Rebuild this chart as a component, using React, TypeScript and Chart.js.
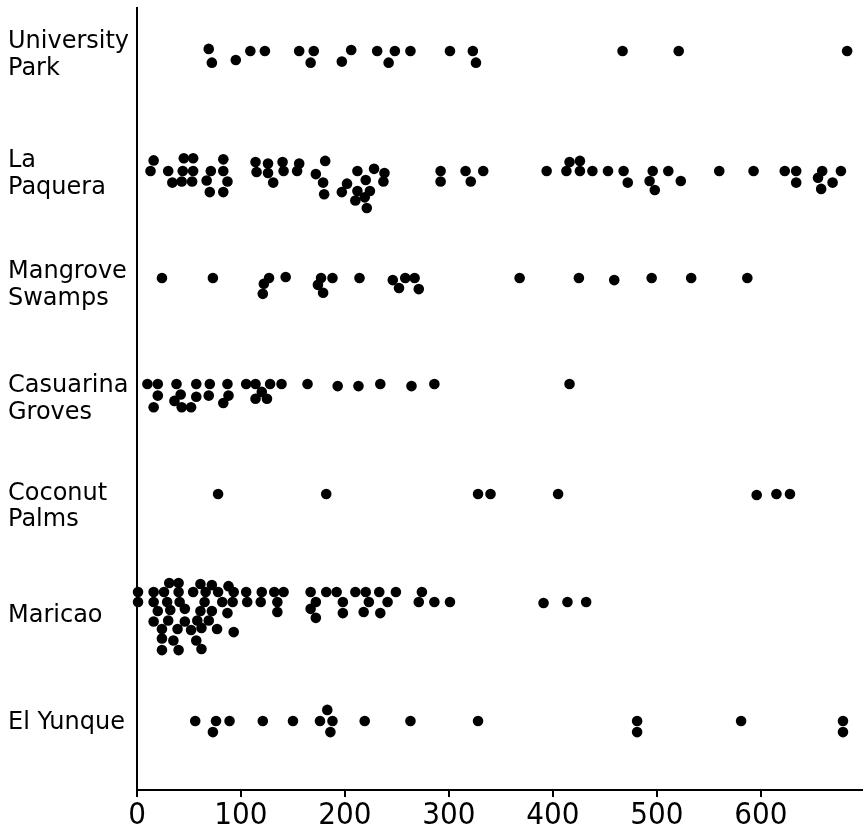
import React, { useEffect, useRef } from "react";
import { Chart, registerables } from "chart.js";

Chart.register(...registerables);

// ---- Data ----
const siteNames = ["University Park", "La Paquera", "Mangrove Swamps", "Casuarina Groves", "Coconut Palms", "Maricao", "El Yunque"];
const siteLabels: (string | string[])[] = [
  ["University", "Park"],
  ["La", "Paquera"],
  ["Mangrove", "Swamps"],
  ["Casuarina", "Groves"],
  ["Coconut", "Palms"],
  "Maricao",
  "El Yunque",
];
const xTickValues = [0, 100, 200, 300, 400, 500, 600];

// row baseline (in dot-level units from the top) and label centre for each site
const rowBase = [4.07, 15.42, 25.55, 35.58, 45.99, 55.26, 67.47];
const labelPos = [4.5, 15.75, 26.2, 37.0, 47.2, 57.5, 67.6];

const universityParkValues = [69, 72, 95, 109, 123, 156, 170, 167, 197, 206, 231, 248, 242, 263, 301, 323, 326, 467, 521, 683];
const universityParkLevels = [-0.2, 1.1, 0.85, 0, 0, 0, 0, 1.1, 1, -0.1, 0, 0, 1.1, 0, 0, 0, 1.1, 0, 0, 0];

const laPaqueraValues = [16, 13, 30, 34, 45, 54, 44, 54, 43, 53, 71, 83, 83, 67, 87, 70, 83, 114, 126, 140, 156, 115, 126, 141, 154, 131, 181, 172, 179, 180, 212, 228, 238, 220, 237, 202, 197, 212, 224, 210, 219, 221, 292, 292, 316, 333, 321, 394, 416, 426, 413, 426, 438, 453, 468, 472, 496, 493, 498, 511, 523, 560, 593, 623, 634, 634, 659, 655, 658, 669, 677];
const laPaqueraLevels = [-1, 0, 0, 1.1, -1.2, -1.2, 0, 0, 1, 1, 0, -1.1, 0, 0.9, 1, 2, 2, -0.85, -0.7, -0.85, -0.7, 0.1, 0.2, 0, 0, 1.1, -0.95, 0.3, 1.1, 2.2, 0, -0.2, 0.2, 0.85, 1, 1.2, 2, 1.9, 1.9, 2.8, 2.5, 3.5, 0, 1, 0, 0, 1, 0, -0.85, -0.95, 0, 0, 0, 0, 0, 1.1, 0, 0.95, 1.8, 0, 0.95, 0, 0, 0, 0, 1.1, 0, 0.65, 1.7, 1.1, 0];

const mangroveValues = [24, 73, 127, 122, 121, 143, 177, 188, 174, 179, 214, 246, 258, 267, 252, 271, 368, 425, 459, 495, 533, 587];
const mangroveLevels = [0, 0, 0, 0.55, 1.5, -0.1, 0, 0, 0.65, 1.4, 0, 0.2, 0, 0, 0.95, 1.05, 0, 0, 0.2, 0, 0, 0];

const casuarinaValues = [10, 20, 38, 57, 70, 87, 105, 114, 128, 139, 164, 193, 213, 234, 264, 286, 416, 20, 16, 42, 36, 43, 57, 52, 69, 88, 83, 120, 114, 125];
const casuarinaLevels = [0, 0, 0, 0, 0, 0, 0, 0, 0, 0, 0, 0.2, 0.2, 0, 0.2, 0, 0, 1.1, 2.2, 1, 1.6, 2.2, 1.2, 2.2, 1.1, 1.1, 1.8, 0.75, 1.4, 1.4];

const coconutValues = [78, 182, 328, 340, 405, 596, 615, 628];
const coconutLevels = [0, 0, 0, 0, 0, 0.1, 0, 0];

const maricaoValues = [
  31, 40, 61, 72, 88,
  1, 16, 26, 40, 54, 66, 78, 93, 105, 120, 132, 141, 167, 182, 192, 210, 220, 233, 249, 274,
  1, 16, 29, 41, 65, 82, 92, 106, 119, 135, 172, 198, 223, 241, 271, 286, 301, 391, 414, 432,
  20, 32, 46, 61, 72, 87, 135, 167, 198, 218, 234,
  16, 30, 46, 58, 69, 172,
  24, 39, 52, 62, 77, 93,
  24, 35, 57,
  24, 40, 62,
];
const maricaoLevels = [
  -0.85, -0.85, -0.75, -0.65, -0.55,
  0, 0, 0, 0, 0, 0, 0, 0, 0, 0, 0, 0, 0, 0, 0, 0, 0, 0, 0, 0,
  0.95, 0.95, 0.95, 0.95, 0.95, 0.95, 0.95, 0.95, 0.95, 0.95, 0.95, 0.95, 0.95, 0.95, 0.95, 0.95, 0.95, 1.05, 0.95, 0.95,
  1.8, 1.7, 1.6, 1.8, 1.8, 2.0, 1.9, 1.6, 2.0, 1.9, 2.0,
  2.8, 2.7, 2.8, 2.7, 2.7, 2.45,
  3.5, 3.5, 3.6, 3.4, 3.5, 3.8,
  4.4, 4.6, 4.6,
  5.5, 5.5, 5.4,
];

const elYunqueValues = [56, 73, 76, 89, 121, 150, 176, 183, 188, 186, 219, 263, 328, 481, 481, 581, 679, 679];
const elYunqueLevels = [0, 1.05, 0, 0, 0, 0, 0, -1.05, 0, 1.05, 0, 0, 0, 0, 1.05, 0, 0, 1.05];

export default function App() {
  const canvasRef = useRef<HTMLCanvasElement>(null);

  useEffect(() => {
    const sites: [number[], number[]][] = [
      [universityParkValues, universityParkLevels],
      [laPaqueraValues, laPaqueraLevels],
      [mangroveValues, mangroveLevels],
      [casuarinaValues, casuarinaLevels],
      [coconutValues, coconutLevels],
      [maricaoValues, maricaoLevels],
      [elYunqueValues, elYunqueLevels],
    ];
    const datasets = sites.map(([vals, lvls], k) => ({
      label: siteNames[k],
      data: vals.map((v, i) => ({ x: v, y: rowBase[k] + lvls[i] })),
      backgroundColor: "#000",
      borderColor: "#000",
      borderWidth: 0,
      pointRadius: 5.3,
      pointHoverRadius: 5.3,
      clip: false as const,
    }));

    const chart = new Chart(canvasRef.current as HTMLCanvasElement, {
      type: "scatter",
      data: { datasets },
      options: {
        animation: false,
        responsive: false,
        events: [],
        layout: { padding: { left: 8, top: 8, right: 0, bottom: 0 } },
        plugins: { legend: { display: false }, tooltip: { enabled: false } },
        scales: {
          x: {
            type: "linear",
            position: "bottom",
            min: 0,
            max: 697,
            grid: { display: true, drawOnChartArea: false, drawTicks: true, tickLength: 7, color: "#000", lineWidth: 2 },
            border: { display: true, color: "#000", width: 2 },
            ticks: {
              color: "#000",
              font: { family: "'Liberation Sans Narrow', 'DejaVu Sans Condensed', 'DejaVu Sans', sans-serif", size: 31, lineHeight: 1 },
              padding: 3,
              maxRotation: 0,
              autoSkip: false,
            },
            afterBuildTicks: (s: any) => {
              s.ticks = xTickValues.map((v) => ({ value: v }));
            },
            afterFit: (s: any) => {
              s.height = 39;
              s.paddingLeft = 0;
              s.paddingRight = 0;
            },
          },
          y: {
            type: "linear",
            reverse: true,
            min: 0,
            max: 74,
            grid: { display: false },
            border: { display: true, color: "#000", width: 2 },
            ticks: {
              crossAlign: "far",
              color: "#000",
              font: { family: "'DejaVu Sans', sans-serif", size: 24, lineHeight: 1.12 },
              padding: 0,
              autoSkip: false,
              callback: (_v: any, i: number) => siteLabels[i],
            },
            afterBuildTicks: (s: any) => {
              s.ticks = labelPos.map((v) => ({ value: v }));
            },
            afterFit: (s: any) => {
              s.width = 129;
              s.paddingTop = 0;
              s.paddingBottom = 0;
            },
          },
        },
      },
    });
    return () => chart.destroy();
  }, []);

  return (
    <div style={{ position: "absolute", left: 0, top: 0, width: 867, height: 829, background: "#fff" }}>
      <canvas ref={canvasRef} width={867} height={829} style={{ display: "block" }} />
    </div>
  );
}
